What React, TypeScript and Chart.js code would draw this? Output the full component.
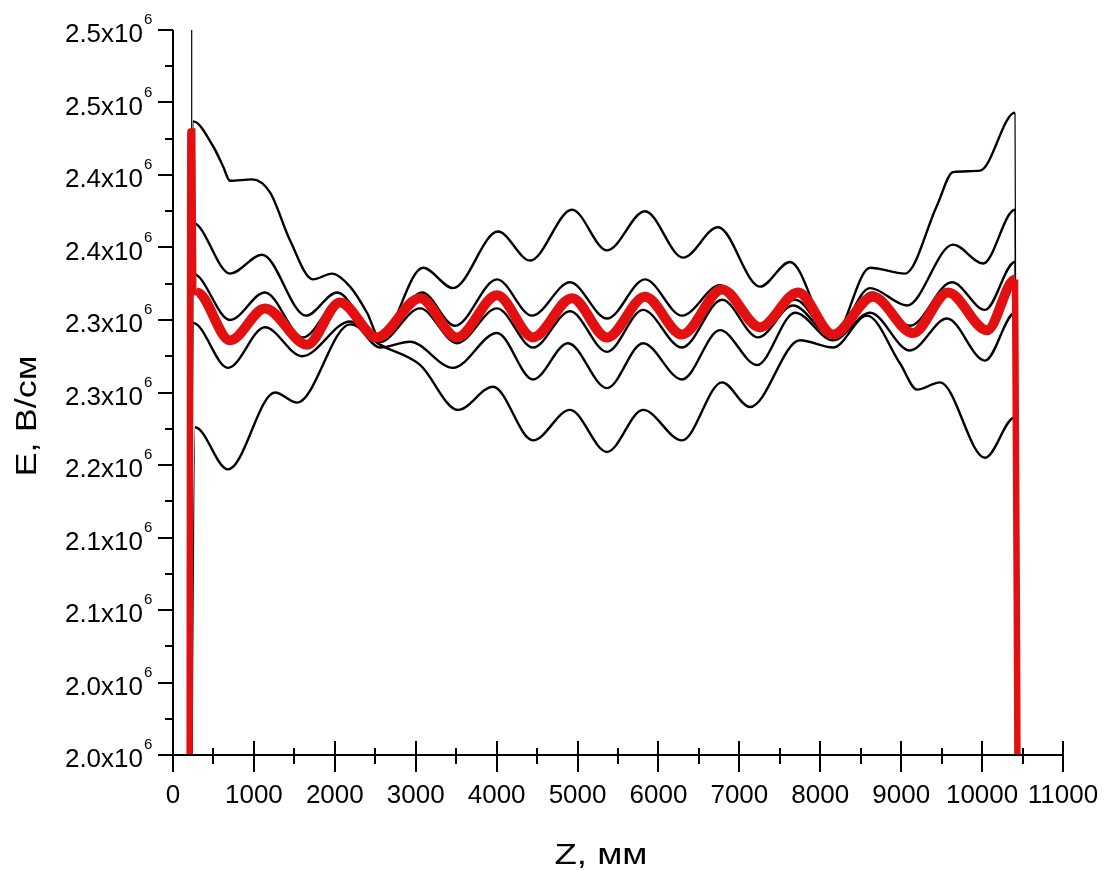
import React, { useEffect, useRef } from 'react';
import { Chart, registerables } from 'chart.js';

Chart.register(...registerables);

// ---- data (z in mm, E in units of 10^6 V/cm) ----
const c1Z = [229, 247, 494, 618, 705, 976, 1199, 1446, 1730, 1965, 2188, 2398, 2559, 3090, 3461, 4017, 4413, 4932, 5364, 5834, 6304, 6736, 7255, 7626, 8158, 8615, 9048, 9443, 9641, 9975, 10407, 10432];
const c1E = [1.95, 2.437, 2.42, 2.406, 2.396, 2.397, 2.388, 2.355, 2.328, 2.332, 2.323, 2.305, 2.287, 2.336, 2.322, 2.361, 2.341, 2.376, 2.348, 2.375, 2.343, 2.364, 2.323, 2.34, 2.288, 2.336, 2.332, 2.379, 2.402, 2.403, 2.443, 1.95];

// thin spike at the entrance
const spikeZ = [231, 231];
const spikeE = [1.95, 2.6];

const c2Z = [229, 247, 705, 1100, 1644, 2027, 2559, 3078, 3486, 4005, 4437, 4907, 5364, 5834, 6291, 6761, 7231, 7688, 8158, 8615, 9072, 9641, 10012, 10407, 10432];
const c2E = [1.95, 2.367, 2.332, 2.345, 2.303, 2.319, 2.285, 2.319, 2.296, 2.328, 2.303, 2.326, 2.301, 2.328, 2.303, 2.324, 2.297, 2.314, 2.288, 2.322, 2.31, 2.352, 2.339, 2.376, 1.95];

const c3Z = [229, 247, 705, 1137, 1607, 2064, 2559, 3053, 3510, 4005, 4450, 4907, 5364, 5809, 6291, 6786, 7231, 7663, 8158, 8640, 9109, 9628, 10036, 10407, 10432];
const c3E = [1.95, 2.332, 2.3, 2.319, 2.288, 2.314, 2.285, 2.308, 2.284, 2.308, 2.281, 2.306, 2.278, 2.307, 2.281, 2.314, 2.288, 2.31, 2.288, 2.319, 2.296, 2.326, 2.307, 2.34, 1.95];

const c4Z = [229, 247, 680, 1137, 1594, 2188, 2559, 2929, 3461, 4005, 4450, 4882, 5364, 5809, 6291, 6761, 7218, 7688, 8158, 8615, 9109, 9567, 10036, 10407, 10432];
const c4E = [1.95, 2.298, 2.267, 2.295, 2.275, 2.299, 2.281, 2.285, 2.267, 2.291, 2.259, 2.284, 2.253, 2.284, 2.259, 2.293, 2.269, 2.305, 2.286, 2.305, 2.279, 2.301, 2.272, 2.305, 1.95];

const c5Z = [229, 272, 680, 1261, 1533, 2188, 2559, 3053, 3523, 3955, 4450, 4907, 5364, 5809, 6291, 6786, 7132, 7750, 8158, 8578, 8986, 9196, 9480, 10036, 10407, 10432];
const c5E = [1.95, 2.226, 2.197, 2.25, 2.243, 2.297, 2.283, 2.269, 2.238, 2.254, 2.217, 2.238, 2.209, 2.238, 2.217, 2.257, 2.24, 2.286, 2.281, 2.303, 2.27, 2.252, 2.257, 2.205, 2.233, 1.95];

const redZ = [205, 215, 238, 250, 297, 705, 1137, 1656, 2064, 2521, 3053, 3510, 4005, 4450, 4932, 5364, 5834, 6291, 6786, 7255, 7725, 8158, 8652, 9146, 9579, 10061, 10407, 10440];
const redE = [1.95, 2.43, 2.43, 2.32, 2.319, 2.286, 2.308, 2.283, 2.312, 2.288, 2.315, 2.288, 2.317, 2.288, 2.315, 2.288, 2.316, 2.29, 2.321, 2.295, 2.319, 2.29, 2.316, 2.291, 2.319, 2.293, 2.328, 1.95];

const xTickValues = [0, 1000, 2000, 3000, 4000, 5000, 6000, 7000, 8000, 9000, 10000, 11000];
const yTickValues = [2.0, 2.05, 2.1, 2.15, 2.2, 2.25, 2.3, 2.35, 2.4, 2.45, 2.5];
const yTickLabels = ['2.0', '2.0', '2.1', '2.1', '2.2', '2.3', '2.3', '2.4', '2.4', '2.5', '2.5'];
const xTitle = 'Z, мм';
const yTitle = 'E, В/см';

const FONT = '"Liberation Sans", Arial, sans-serif';

const toPoints = (z: number[], e: number[]) => z.map((v, i) => ({ x: v, y: e[i] }));

const axesPlugin = {
  id: 'customAxes',
  afterDraw(chart: any) {
    const { ctx, chartArea } = chart;
    const xs = chart.scales.x;
    const ys = chart.scales.y;
    const left = chartArea.left;
    const bottom = chartArea.bottom;
    ctx.save();
    ctx.strokeStyle = '#000';
    ctx.fillStyle = '#000';
    ctx.lineWidth = 2;
    ctx.beginPath();
    ctx.moveTo(left, ys.getPixelForValue(2.5));
    ctx.lineTo(left, bottom);
    ctx.moveTo(left, bottom);
    ctx.lineTo(xs.getPixelForValue(11000), bottom);
    ctx.stroke();
    ctx.beginPath();
    yTickValues.forEach((v, i) => {
      const py = Math.round(ys.getPixelForValue(v));
      ctx.moveTo(left - 15, py);
      ctx.lineTo(left, py);
      if (i < yTickValues.length - 1) {
        const pm = Math.round(ys.getPixelForValue((v + yTickValues[i + 1]) / 2));
        ctx.moveTo(left - 8, pm);
        ctx.lineTo(left, pm);
      }
    });
    xTickValues.forEach((v, i) => {
      const px = Math.round(xs.getPixelForValue(v));
      ctx.moveTo(px, bottom - 14);
      ctx.lineTo(px, bottom + 17);
      if (i < xTickValues.length - 1) {
        const pm = Math.round(xs.getPixelForValue((v + xTickValues[i + 1]) / 2));
        ctx.moveTo(pm, bottom - 7);
        ctx.lineTo(pm, bottom + 9);
      }
    });
    ctx.stroke();
    yTickValues.forEach((v, i) => {
      const py = ys.getPixelForValue(v);
      ctx.font = `26px ${FONT}`;
      ctx.textAlign = 'right';
      ctx.textBaseline = 'alphabetic';
      ctx.fillText(yTickLabels[i] + 'x10', 143, py + 12);
      ctx.font = `15px ${FONT}`;
      ctx.textAlign = 'left';
      ctx.fillText('6', 144, py - 6);
    });
    ctx.font = `26px ${FONT}`;
    ctx.textAlign = 'center';
    ctx.textBaseline = 'alphabetic';
    xTickValues.forEach((v) => {
      ctx.fillText(String(v), xs.getPixelForValue(v), 803);
    });
    ctx.font = `30px ${FONT}`;
    ctx.textAlign = 'center';
    ctx.save();
    ctx.translate(601, 864);
    ctx.scale(1.22, 1);
    ctx.fillText(xTitle, 0, 0);
    ctx.restore();
    ctx.save();
    ctx.translate(36, 416);
    ctx.rotate(-Math.PI / 2);
    ctx.scale(1.2, 1);
    ctx.fillText(yTitle, 0, 0);
    ctx.restore();
    ctx.restore();
  },
};

export default function App() {
  const ref = useRef<HTMLCanvasElement | null>(null);
  useEffect(() => {
    if (!ref.current) return;
    const black = (z: number[], e: number[], w = 2.4) => ({
      data: toPoints(z, e),
      borderColor: '#000',
      borderWidth: w,
      pointRadius: 0,
      cubicInterpolationMode: 'monotone' as const,
      clip: 0,
      order: 1,
      segment: {
        borderWidth: (c: any) => (c.p0.parsed.y < 2.0 || c.p1.parsed.y < 2.0 ? 1.2 : w),
      },
    });
    const chart = new Chart(ref.current, {
      type: 'line',
      data: {
        datasets: [
          {
            data: toPoints(redZ, redE),
            borderColor: 'rgb(226,16,16)',
            borderWidth: 10,
            pointRadius: 0,
            cubicInterpolationMode: 'monotone',
            clip: 0,
            order: 0,
            segment: {
              borderWidth: (c: any) => (c.p0DataIndex < 4 || c.p1DataIndex >= redZ.length - 1 ? 6.5 : 10),
            },
          } as any,
          black(c1Z, c1E),
          black(c2Z, c2E),
          black(c3Z, c3E),
          black(c4Z, c4E),
          black(c5Z, c5E),
          { ...black(spikeZ, spikeE, 1.2), order: 2 },
        ],
      },
      options: {
        animation: false,
        responsive: false,
        events: [],
        layout: { padding: { left: 0, right: 45, top: 30, bottom: 0 } },
        plugins: { legend: { display: false }, tooltip: { enabled: false } },
        scales: {
          x: {
            type: 'linear', min: 0, max: 11000,
            grid: { display: false }, border: { display: false }, ticks: { display: false },
            afterFit: (s: any) => { s.height = 115; },
          },
          y: {
            type: 'linear', min: 2.0, max: 2.5,
            grid: { display: false }, border: { display: false }, ticks: { display: false },
            afterFit: (s: any) => { s.width = 173; },
          },
        },
      } as any,
      plugins: [axesPlugin],
    });
    return () => chart.destroy();
  }, []);
  return (
    <div style={{ position: 'absolute', left: 0, top: 0, width: 1108, height: 870, background: '#fff' }}>
      <canvas ref={ref} width={1108} height={870} style={{ width: 1108, height: 870, display: 'block' }} />
    </div>
  );
}
